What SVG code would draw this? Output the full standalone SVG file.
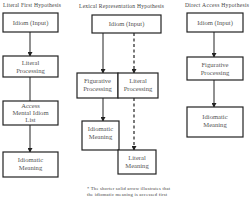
<svg xmlns="http://www.w3.org/2000/svg" width="250" height="200" viewBox="0 0 250 200">
<style>
.box{fill:#fff;stroke:#222;stroke-width:1.2}
.t{font-family:"Liberation Serif",serif;font-size:6.6px;fill:#555;text-anchor:middle}
.h{font-family:"Liberation Serif",serif;font-size:5.6px;fill:#444}
.n{font-family:"Liberation Serif",serif;font-size:4.6px;fill:#444}
.c{stroke:#222;stroke-width:1;fill:none}
.d{stroke:#222;stroke-width:1.2;fill:none;stroke-dasharray:3,2.5}
</style>
<defs>
<marker id="a" markerWidth="5" markerHeight="5" refX="4" refY="2.5" orient="auto" markerUnits="userSpaceOnUse"><path d="M0,0 L4.5,2.5 L0,5 z" fill="#222"/></marker>
</defs>
<text class="h" x="3" y="7" textLength="58">Literal First Hypothesis</text>
<text class="h" x="79" y="8" textLength="85">Lexical Representation Hypothesis</text>
<text class="h" x="185" y="7" textLength="64">Direct Access Hypothesis</text>
<g id="connectors">
<line class="c" x1="30" y1="32" x2="30" y2="56" marker-end="url(#a)"/>
<line class="c" x1="30" y1="77" x2="30" y2="101"/>
<line class="c" x1="30" y1="125" x2="30" y2="152" marker-end="url(#a)"/>
<line class="c" x1="103" y1="33" x2="103" y2="73" marker-end="url(#a)"/>
<line class="d" x1="134" y1="33" x2="134" y2="73" marker-end="url(#a)"/>
<line class="c" x1="103" y1="98" x2="103" y2="121" marker-end="url(#a)"/>
<line class="d" x1="134" y1="98" x2="134" y2="150" marker-end="url(#a)"/>
<line class="c" x1="214" y1="32" x2="214" y2="57" marker-end="url(#a)"/>
<line class="c" x1="214" y1="80" x2="214" y2="107" marker-end="url(#a)"/>
</g>
<g id="lf-idiom"><rect class="box" x="3" y="13" width="55" height="19"/><text class="t" x="30.5" y="24.5">Idiom (Input)</text></g>
<g id="lf-literal"><rect class="box" x="3" y="56" width="55" height="21"/><text class="t" x="30.5" y="64.5">Literal</text><text class="t" x="30.5" y="72.5">Processing</text></g>
<g id="lf-access"><rect class="box" x="3" y="101" width="55" height="24"/><text class="t" x="30.5" y="108">Access</text><text class="t" x="30.5" y="115">Mental Idiom</text><text class="t" x="30.5" y="122">List</text></g>
<g id="lf-meaning"><rect class="box" x="3" y="152" width="55" height="25"/><text class="t" x="30.5" y="162">Idiomatic</text><text class="t" x="30.5" y="170">Meaning</text></g>
<g id="lr-idiom"><rect class="box" x="92" y="15" width="69" height="18"/><text class="t" x="126.5" y="26">Idiom (Input)</text></g>
<g id="lr-figurative"><rect class="box" x="77" y="73" width="41" height="25"/><text class="t" x="97.5" y="82.5">Figurative</text><text class="t" x="97.5" y="90.5">Processing</text></g>
<g id="lr-literal"><rect class="box" x="118" y="73" width="40" height="25"/><text class="t" x="138" y="82.5">Literal</text><text class="t" x="138" y="90.5">Processing</text></g>
<g id="lr-idiomatic"><rect class="box" x="82" y="121" width="37" height="29"/><text class="t" x="100.5" y="131">Idiomatic</text><text class="t" x="100.5" y="139">Meaning</text></g>
<g id="lr-literal-meaning"><rect class="box" x="118" y="150" width="38" height="24"/><text class="t" x="137" y="160">Literal</text><text class="t" x="137" y="168">Meaning</text></g>
<g id="da-idiom"><rect class="box" x="187" y="13" width="56" height="19"/><text class="t" x="215" y="24.5">Idiom (Input)</text></g>
<g id="da-figurative"><rect class="box" x="187" y="57" width="56" height="23"/><text class="t" x="215" y="67">Figurative</text><text class="t" x="215" y="75">Processing</text></g>
<g id="da-meaning"><rect class="box" x="187" y="107" width="56" height="30"/><text class="t" x="215" y="119">Idiomatic</text><text class="t" x="215" y="127">Meaning</text></g>
<text class="n" x="87" y="189.5" textLength="83">* The shorter solid arrow illustrates that</text>
<text class="n" x="87" y="195.5" textLength="80">the idiomatic meaning is accessed first</text>
</svg>
